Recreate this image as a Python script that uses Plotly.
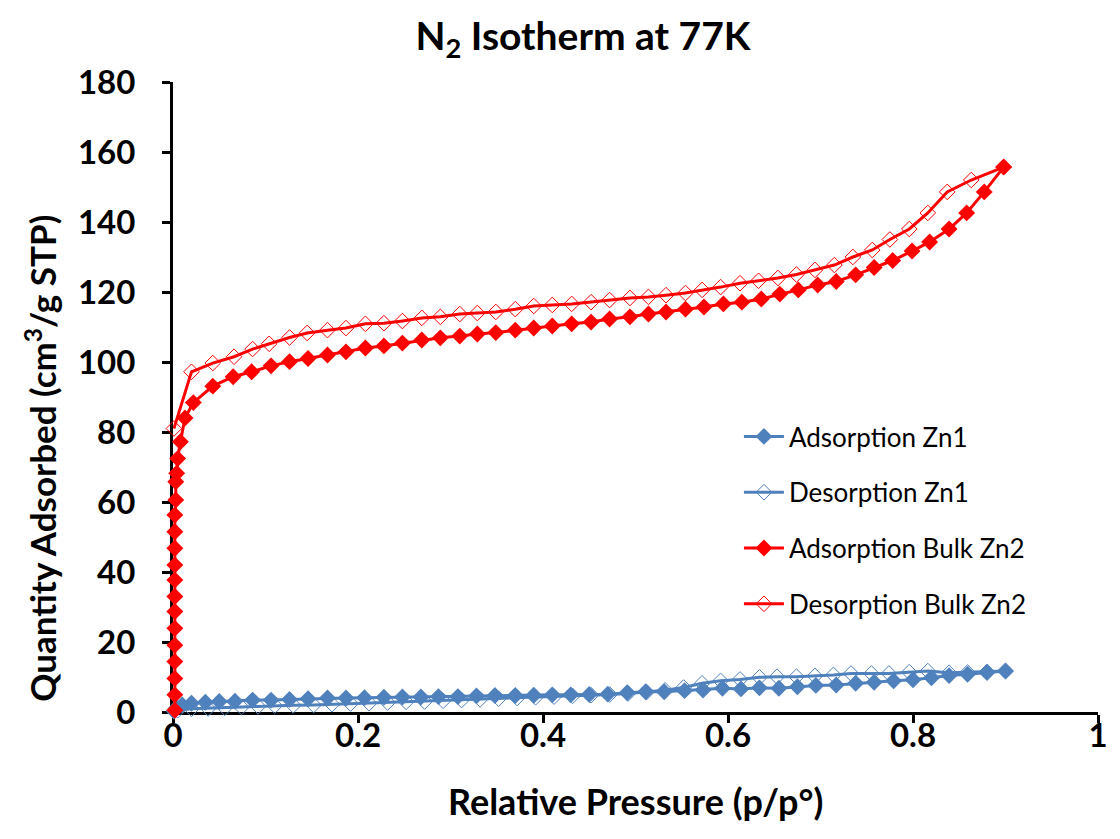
import plotly.graph_objects as go

# ---------------- data ----------------
ads_zn1_p = [0.001, 0.004, 0.010, 0.020, 0.035, 0.050, 0.067, 0.086, 0.106, 0.126, 0.146, 0.167,
             0.187, 0.207, 0.228, 0.248, 0.268, 0.287, 0.308, 0.328, 0.348, 0.370, 0.390, 0.410,
             0.430, 0.450, 0.470, 0.491, 0.511, 0.531, 0.553, 0.573, 0.594, 0.614, 0.634, 0.655,
             0.675, 0.695, 0.717, 0.738, 0.758, 0.779, 0.800, 0.820, 0.839, 0.859, 0.880, 0.900]
ads_zn1_q = [0.3, 1.2, 2.0, 2.5, 2.8, 3.0, 3.1, 3.4, 3.4, 3.6, 3.8, 4.0,
             4.0, 4.1, 4.2, 4.3, 4.3, 4.4, 4.4, 4.6, 4.7, 4.7, 4.8, 4.9,
             4.9, 5.0, 5.1, 5.5, 5.8, 5.8, 6.1, 6.3, 6.8, 6.6, 6.9, 6.8,
             7.2, 7.6, 7.7, 8.2, 8.5, 8.9, 9.2, 9.8, 10.4, 10.8, 11.3, 11.7]

des_zn1_p = [0.900, 0.880, 0.859, 0.839, 0.816, 0.796, 0.774, 0.755, 0.733, 0.714, 0.694, 0.674,
             0.653, 0.634, 0.613, 0.592, 0.572, 0.552, 0.532, 0.512, 0.492, 0.472, 0.452, 0.432,
             0.412, 0.392, 0.372, 0.352, 0.332, 0.312, 0.292, 0.272, 0.252, 0.232, 0.212, 0.192,
             0.172, 0.152, 0.130, 0.110, 0.092, 0.074, 0.056, 0.038, 0.020, 0.005]
des_zn1_q = [11.7, 11.5, 11.3, 11.2, 11.7, 11.4, 11.0, 11.0, 11.0, 10.6, 10.3, 10.1,
             10.1, 9.9, 9.3, 8.9, 8.2, 7.0, 6.2, 5.7, 5.3, 5.0, 4.8, 4.6,
             4.4, 4.2, 4.0, 3.8, 3.6, 3.4, 3.2, 3.0, 2.9, 2.7, 2.5, 2.4,
             2.2, 2.0, 1.9, 1.8, 1.6, 1.4, 1.2, 1.0, 0.9, 0.5]

ads_zn2_p = [0.002, 0.002, 0.002, 0.002, 0.002, 0.002, 0.002, 0.002, 0.002, 0.002, 0.002,
             0.002, 0.002, 0.003, 0.003, 0.004, 0.005, 0.008, 0.013, 0.022, 0.043, 0.065,
             0.085, 0.106, 0.126, 0.146, 0.167, 0.187, 0.208, 0.228, 0.248, 0.269, 0.289,
             0.310, 0.329, 0.349, 0.370, 0.390, 0.410, 0.431, 0.452, 0.472, 0.494, 0.514,
             0.533, 0.554, 0.574, 0.595, 0.615, 0.636, 0.656, 0.676, 0.697, 0.717, 0.738,
             0.758, 0.778, 0.799, 0.818, 0.839, 0.858, 0.877, 0.898]
ads_zn2_q = [0.5, 4.9, 9.6, 14.4, 19.1, 23.9, 28.7, 33.0, 37.7, 42.0, 46.8,
             51.5, 56.3, 60.6, 65.8, 68.2, 72.4, 77.2, 84.0, 88.4, 93.1, 95.8,
             97.2, 98.9, 100.1, 101.0, 102.0, 102.9, 104.0, 104.6, 105.4, 106.3, 106.9,
             107.4, 108.0, 108.4, 109.1, 109.7, 110.3, 110.9, 111.4, 112.3, 112.9, 113.7,
             114.3, 115.1, 115.7, 116.6, 117.1, 118.0, 119.4, 120.6, 122.0, 123.0, 124.9,
             127.0, 129.0, 131.7, 134.3, 138.0, 142.6, 148.6, 155.7]

des_zn2_p = [0.898, 0.863, 0.837, 0.816, 0.796, 0.775, 0.756, 0.735, 0.715, 0.694, 0.674,
             0.654, 0.633, 0.613, 0.592, 0.572, 0.554, 0.533, 0.514, 0.494, 0.472, 0.452,
             0.431, 0.410, 0.390, 0.370, 0.349, 0.329, 0.310, 0.289, 0.269, 0.248, 0.228,
             0.208, 0.187, 0.167, 0.145, 0.126, 0.104, 0.086, 0.066, 0.043, 0.020, 0.001]
des_zn2_q = [155.7, 152.0, 148.6, 142.6, 138.0, 135.0, 132.0, 130.0, 127.7, 126.3, 125.0,
             124.0, 123.2, 122.5, 121.4, 120.6, 119.7, 119.1, 118.6, 118.3, 117.7, 117.1,
             116.6, 116.3, 116.0, 115.1, 114.3, 114.0, 113.7, 112.9, 112.6, 111.7, 111.1,
             110.9, 109.7, 109.1, 108.3, 107.0, 105.2, 103.7, 101.5, 99.7, 97.2, 81.0]

x_ticks = [0, 0.2, 0.4, 0.6, 0.8, 1]
x_tick_labels = ["0", "0.2", "0.4", "0.6", "0.8", "1"]
y_ticks = [0, 20, 40, 60, 80, 100, 120, 140, 160, 180]
y_tick_labels = ["0", "20", "40", "60", "80", "100", "120", "140", "160", "180"]

BLUE = "#4F81BD"
RED = "#FF0000"
FONT = "Lato"

fig = go.Figure()

def add(p, q, name, color, filled, rank):
    fig.add_trace(go.Scatter(
        x=p, y=q, name=name, mode="lines+markers",
        line=dict(color=color, width=3),
        marker=dict(symbol="diamond" if filled else "diamond-open",
                    size=13 if filled else 12,
                    color=color,
                    line=dict(color=color, width=0 if filled else 1)),
        cliponaxis=False, legendgroup=name, legendrank=rank,
    ))

add(des_zn1_p, des_zn1_q, "Desorption Zn1", BLUE, False, 2)
add(ads_zn1_p, ads_zn1_q, "Adsorption Zn1", BLUE, True, 1)
add(des_zn2_p, des_zn2_q, "Desorption Bulk Zn2", RED, False, 4)
add(ads_zn2_p, ads_zn2_q, "Adsorption Bulk Zn2", RED, True, 3)

axis_common = dict(
    showline=True, linecolor="black", linewidth=3,
    ticks="outside", ticklen=8, tickwidth=3, tickcolor="black",
    showgrid=False, zeroline=False, layer="below traces",
    tickfont=dict(family=FONT, size=33, color="black", weight="bold"),
)

fig.update_layout(
    width=1120, height=839,
    margin=dict(l=173, r=17, t=82, b=127),
    paper_bgcolor="white", plot_bgcolor="white",
    title=dict(text="N<sub>2</sub> Isotherm at 77K", x=583 / 1120, xanchor="center",
               y=1 - 36 / 839, yanchor="middle",
               font=dict(family=FONT, size=39, color="black", weight="bold")),
    xaxis=dict(range=[0, 1], tickvals=x_ticks, ticktext=x_tick_labels,
               ticklabelstandoff=-16, **axis_common),
    yaxis=dict(range=[0, 180], tickvals=y_ticks, ticktext=y_tick_labels,
               ticklabelstandoff=20, **axis_common),
    legend=dict(x=(742 - 173) / 930, y=(712 - 413) / 630, xanchor="left", yanchor="top",
                font=dict(family=FONT, size=26, color="black"),
                bgcolor="rgba(0,0,0,0)", tracegroupgap=19, itemwidth=40),
    showlegend=True,
    annotations=[
        dict(text="Quantity Adsorbed (cm<sup>3</sup>/g STP)", textangle=-90,
             xref="paper", yref="paper", x=(40 - 173) / 930, y=(712 - 458) / 630,
             xanchor="center", yanchor="middle", showarrow=False,
             font=dict(family=FONT, size=35, color="black", weight="bold")),
        dict(text="Relative Pressure (p/p°)",
             xref="paper", yref="paper", x=0.5, y=-(801 - 712) / 630,
             xanchor="center", yanchor="middle", showarrow=False,
             font=dict(family=FONT, size=36, color="black", weight="bold")),
    ],
)

fig.write_html("out.html")
